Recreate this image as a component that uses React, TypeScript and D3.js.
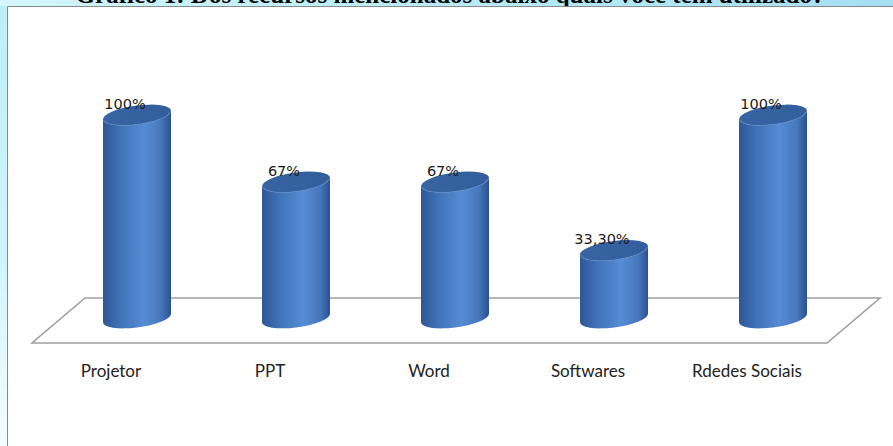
import React, { useRef, useEffect } from 'react';
import * as d3 from 'd3';

const categories = ['Projetor', 'PPT', 'Word', 'Softwares', 'Rdedes Sociais'];
const values = [100, 67, 67, 33.3, 100];
const valueLabels = ['100%', '67%', '67%', '33,30%', '100%'];
const title = 'Gráfico 1: Dos recursos mencionados abaixo quais você tem utilizado?';

const width = 893;
const height = 446;

const App = () => {
  const svgRef = useRef<SVGSVGElement>(null);

  useEffect(() => {
    const svg = d3.select(svgRef.current);
    svg.selectAll('*').remove();

    const defs = svg.append('defs');

    // page background strips
    const topGrad = defs.append('linearGradient').attr('id', 'topGrad')
      .attr('x1', '0%').attr('x2', '100%').attr('y1', '0%').attr('y2', '0%');
    topGrad.append('stop').attr('offset', '0%').attr('stop-color', '#d2f6fb');
    topGrad.append('stop').attr('offset', '60%').attr('stop-color', '#b4eaf6');
    topGrad.append('stop').attr('offset', '100%').attr('stop-color', '#a6def2');

    const leftGrad = defs.append('linearGradient').attr('id', 'leftGrad')
      .attr('x1', '0%').attr('x2', '0%').attr('y1', '0%').attr('y2', '100%');
    leftGrad.append('stop').attr('offset', '0%').attr('stop-color', '#bdeff9');
    leftGrad.append('stop').attr('offset', '55%').attr('stop-color', '#cff4fb');
    leftGrad.append('stop').attr('offset', '100%').attr('stop-color', '#f4fcfe');

    const bodyGrad = defs.append('linearGradient').attr('id', 'bodyGrad')
      .attr('x1', '0%').attr('x2', '100%').attr('y1', '0%').attr('y2', '0%');
    bodyGrad.append('stop').attr('offset', '0%').attr('stop-color', '#2d5796');
    bodyGrad.append('stop').attr('offset', '25%').attr('stop-color', '#3f72b8');
    bodyGrad.append('stop').attr('offset', '60%').attr('stop-color', '#568cd4');
    bodyGrad.append('stop').attr('offset', '85%').attr('stop-color', '#4677bd');
    bodyGrad.append('stop').attr('offset', '100%').attr('stop-color', '#2a5190');

    const capGrad = defs.append('linearGradient').attr('id', 'capGrad')
      .attr('x1', '0%').attr('x2', '100%').attr('y1', '0%').attr('y2', '0%');
    capGrad.append('stop').attr('offset', '0%').attr('stop-color', '#3864a3');
    capGrad.append('stop').attr('offset', '100%').attr('stop-color', '#325e9c');

    svg.append('rect').attr('width', width).attr('height', height).attr('fill', '#fff');
    svg.append('rect').attr('x', 0).attr('y', 0).attr('width', width).attr('height', 6)
      .attr('fill', 'url(#topGrad)');
    svg.append('rect').attr('x', 0).attr('y', 6).attr('width', 7).attr('height', height - 6)
      .attr('fill', 'url(#leftGrad)');

    // title sits above the visible area, only its lower edge shows
    defs.append('clipPath').attr('id', 'titleClip')
      .append('rect').attr('x', 0).attr('y', 0).attr('width', width).attr('height', 6);
    svg.append('text')
      .attr('clip-path', 'url(#titleClip)')
      .attr('x', 450).attr('y', 3)
      .attr('text-anchor', 'middle')
      .style('font-family', "'Liberation Serif', 'Times New Roman', serif")
      .style('font-weight', 'bold')
      .style('font-size', '25px')
      .attr('fill', '#000')
      .text(title);

    // chart frame
    svg.append('path')
      .attr('d', `M7.5,${height} L7.5,6.5 L${width},6.5`)
      .attr('fill', 'none').attr('stroke', '#8a8a8a').attr('stroke-width', 1);

    // floor
    const floor = [[85, 298], [880, 298], [827, 343], [32, 343]];
    svg.append('path')
      .attr('d', d3.line()(floor as [number, number][]) + 'Z')
      .attr('fill', '#fff').attr('stroke', '#a0a0a0').attr('stroke-width', 1.6);

    const x = d3.scalePoint<string>().domain(categories).range([137, 773]);
    const y = d3.scaleLinear().domain([0, 100]).range([318, 115]);

    const rx = 34;
    const ry = 9.5;

    categories.forEach((c, i) => {
      const cx = x(c) as number;
      const yb = y(0);
      const yt = y(values[i]);
      const g = svg.append('g')
        .attr('transform', `translate(${cx},${(yb + yt) / 2}) skewY(-7) translate(${-cx},${-(yb + yt) / 2})`);

      const body = `M${cx - rx},${yt} L${cx - rx},${yb} A${rx},${ry} 0 0 0 ${cx + rx},${yb} L${cx + rx},${yt} A${rx},${ry} 0 0 1 ${cx - rx},${yt} Z`;
      g.append('path').attr('d', body).attr('fill', 'url(#bodyGrad)');
      g.append('ellipse')
        .attr('cx', cx).attr('cy', yt).attr('rx', rx).attr('ry', ry)
        .attr('fill', 'url(#capGrad)');
      g.append('path')
        .attr('d', `M${cx - rx + 2},${yt + 1} A${rx - 2},${ry - 1} 0 0 0 ${cx + rx - 2},${yt + 1}`)
        .attr('fill', 'none').attr('stroke', '#5b8bcc').attr('stroke-width', 1).attr('opacity', 0.6);

      svg.append('text')
        .attr('x', cx - 12).attr('y', yt - 6)
        .attr('text-anchor', 'middle')
        .style('font-family', "'DejaVu Sans', Verdana, sans-serif")
        .style('font-size', '14.5px')
        .attr('fill', '#1a1a1a')
        .text(valueLabels[i]);

      svg.append('text')
        .attr('x', cx - 26).attr('y', 377)
        .attr('text-anchor', 'middle')
        .style('font-family', "Lato, 'Open Sans', sans-serif")
        .style('font-size', '17px')
        .attr('fill', '#222')
        .text(c);
    });
  }, []);

  return (
    <svg
      ref={svgRef}
      width={width}
      height={height}
      style={{ position: 'absolute', left: 0, top: 0, display: 'block' }}
    />
  );
};

export default App;
